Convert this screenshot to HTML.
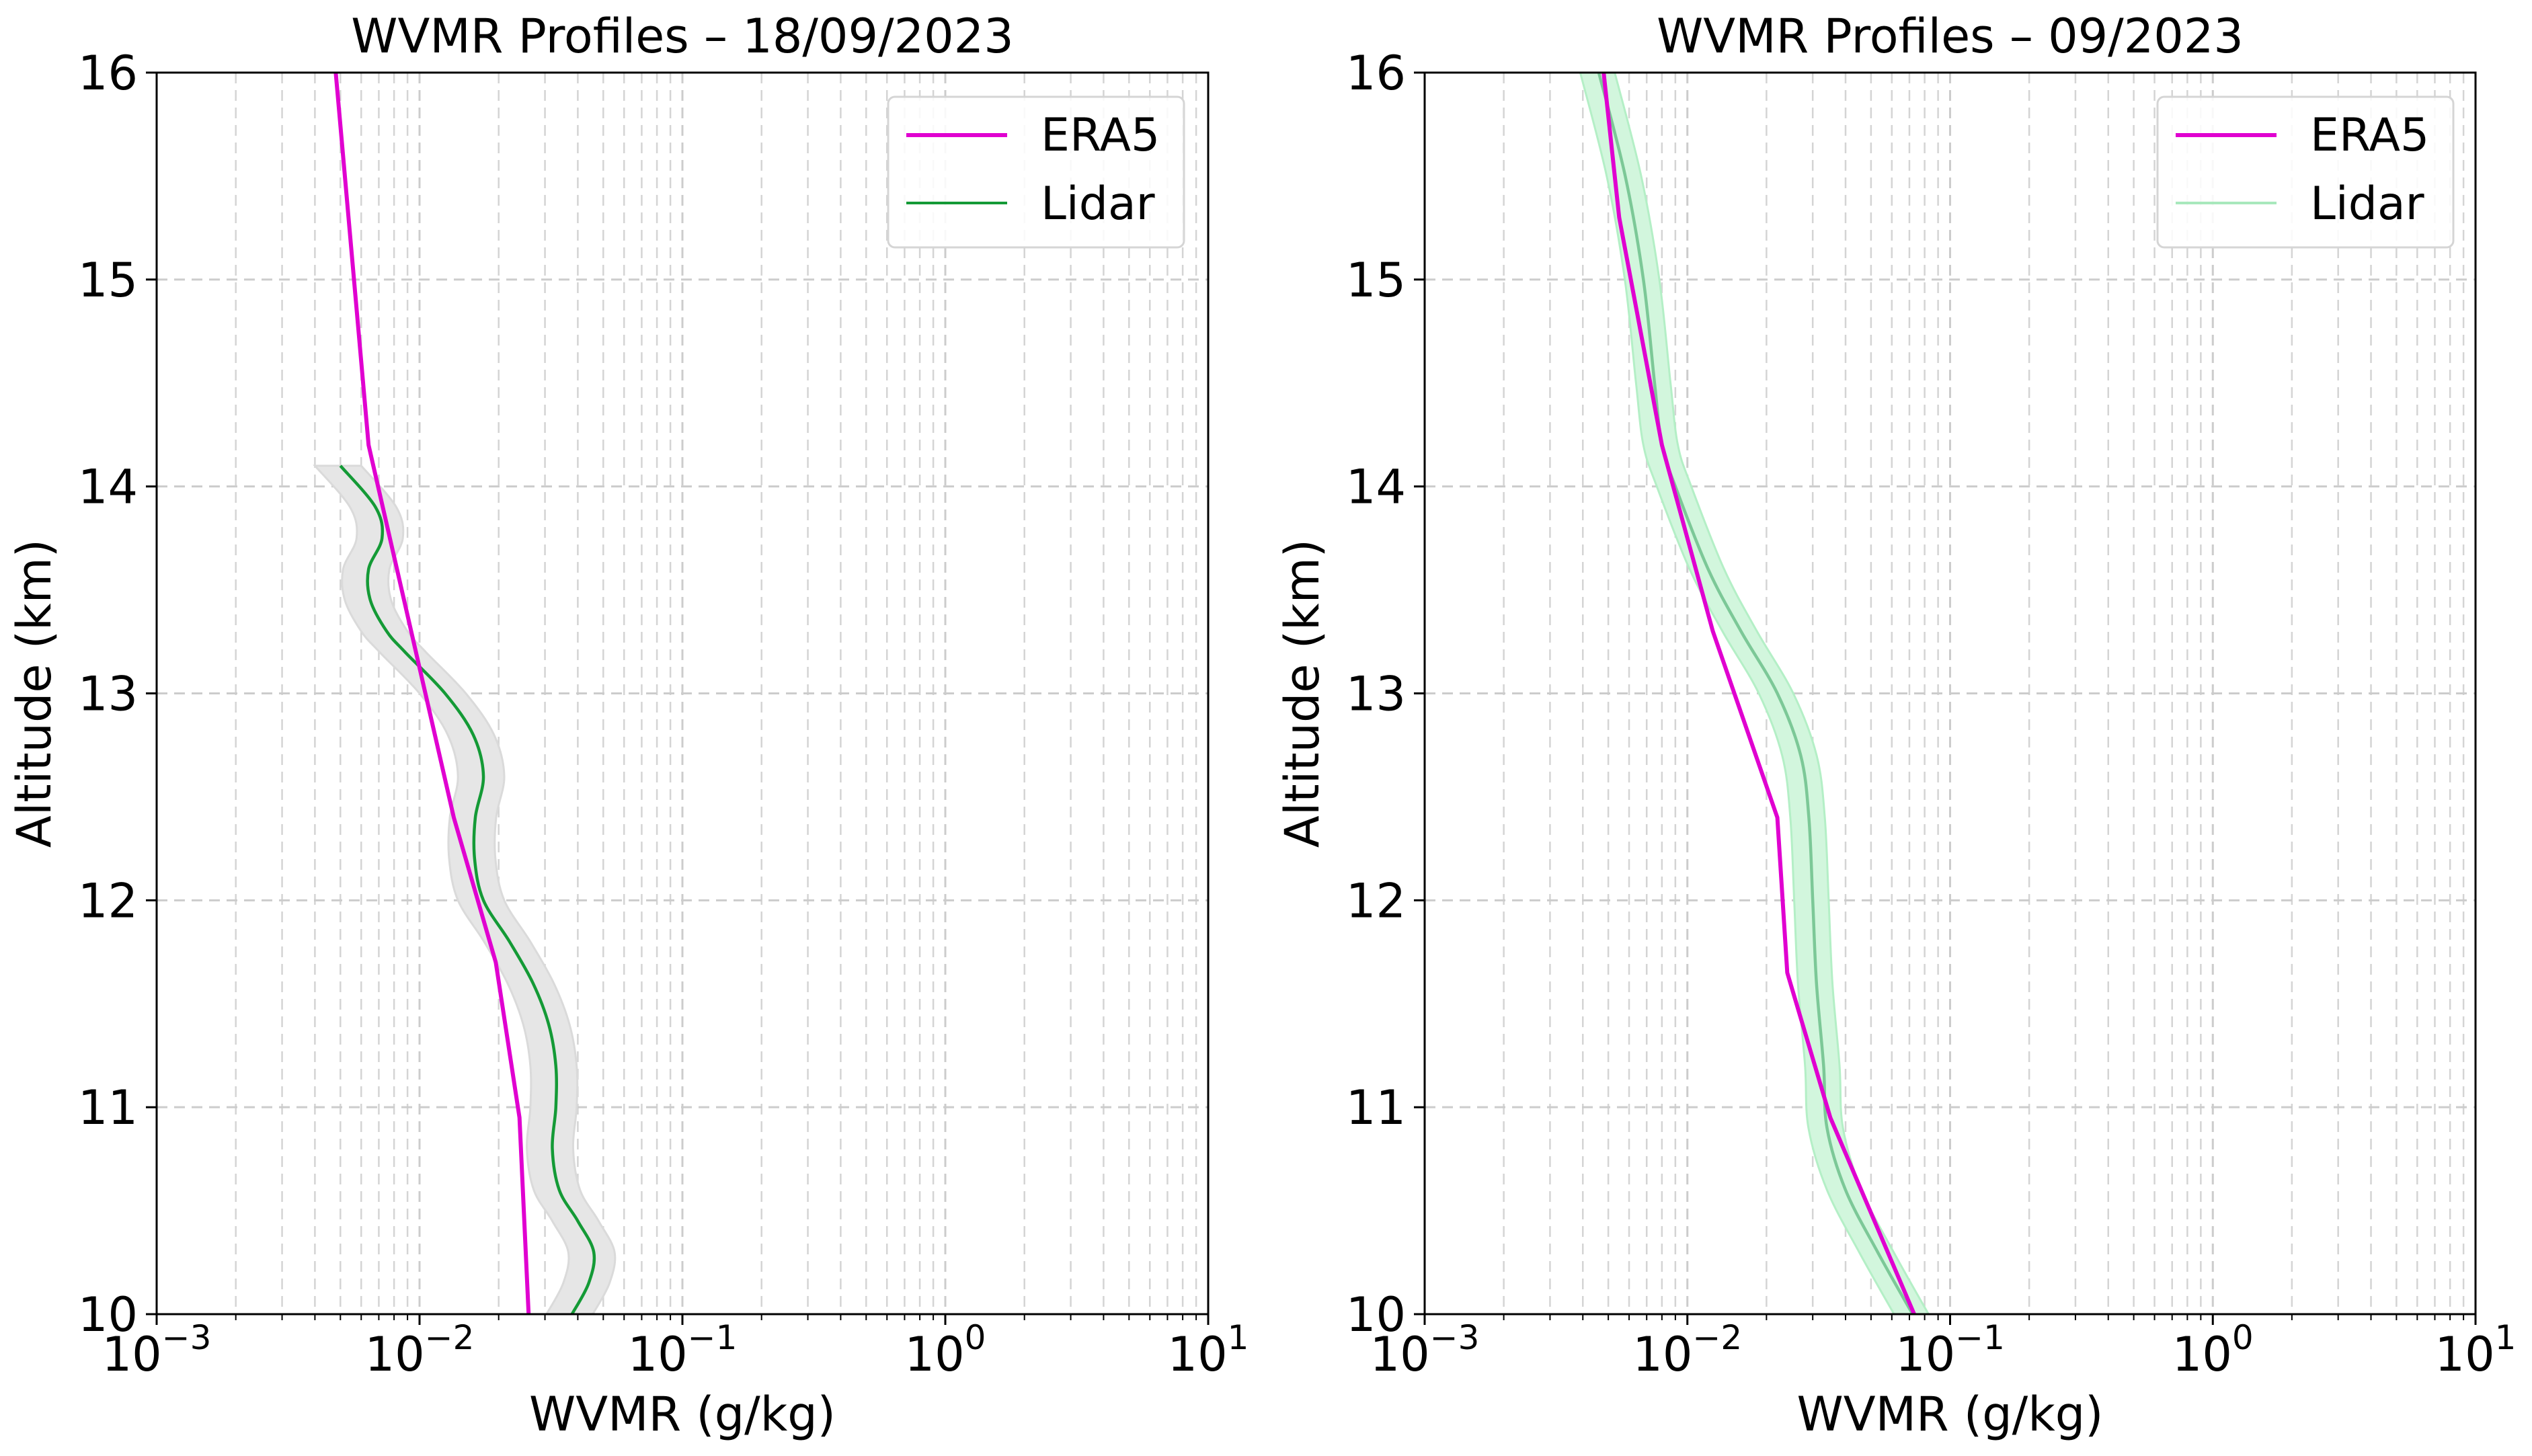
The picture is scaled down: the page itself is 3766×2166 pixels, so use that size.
<!DOCTYPE html>
<html><head><meta charset="utf-8">
<style>
html,body{margin:0;padding:0;background:#fff;}
svg{display:block;font-family:"DejaVu Sans","Liberation Sans",sans-serif;}
</style></head>
<body>
<svg id="fig" width="3766" height="2166" viewBox="0 0 3766 2166" xmlns="http://www.w3.org/2000/svg"></svg>
<script>
// ---- data ----
const titles = ["WVMR Profiles \u2013 18/09/2023", "WVMR Profiles \u2013 09/2023"];
const yTicks = [10, 11, 12, 13, 14, 15, 16];
const xExponents = [-3, -2, -1, 0, 1];
const era5AltLeft = [16, 14.2, 12.4, 11.7, 10.95, 10];
const era5ValLeft = [0.0048, 0.0064, 0.0135, 0.0195, 0.024, 0.026];
const lidarAltLeft = [14.1, 13.9, 13.75, 13.6, 13.45, 13.3, 13.2, 13.0, 12.8, 12.6, 12.4, 12.2, 12.0, 11.8, 11.6, 11.4, 11.2, 11.0, 10.8, 10.6, 10.45, 10.3, 10.15, 10.0];
const lidarValLeft = [0.005, 0.0068, 0.0072, 0.0064, 0.0065, 0.0075, 0.0088, 0.0125, 0.016, 0.0175, 0.0163, 0.0162, 0.0175, 0.022, 0.027, 0.031, 0.033, 0.033, 0.032, 0.034, 0.040, 0.046, 0.044, 0.038];
const era5AltRight = [16, 15.3, 14.2, 13.3, 12.4, 11.65, 10.95, 10];
const era5ValRight = [0.0048, 0.0055, 0.0080, 0.0125, 0.022, 0.024, 0.035, 0.073];
const lidarAltRight = [16, 15.5, 15, 14.5, 14.2, 14, 13.6, 13.3, 13.0, 12.7, 12.4, 12.0, 11.6, 11.2, 10.9, 10.6, 10.3, 10.0];
const lidarValRight = [0.0046, 0.0058, 0.0068, 0.0075, 0.008, 0.009, 0.012, 0.016, 0.022, 0.027, 0.029, 0.030, 0.031, 0.033, 0.034, 0.040, 0.053, 0.072];
const errFracLeft = 0.2;
const errFracRight = 0.15;

const NS = "http://www.w3.org/2000/svg";
const svg = document.getElementById("fig");
function mk(tag, attrs, parent) {
  const e = document.createElementNS(NS, tag);
  for (const k in attrs) e.setAttribute(k, attrs[k]);
  (parent || svg).appendChild(e);
  return e;
}
function smooth(pts) {
  let d = "M" + pts[0][0] + "," + pts[0][1];
  for (let i = 0; i < pts.length - 1; i++) {
    const p0 = pts[Math.max(0, i - 1)], p1 = pts[i], p2 = pts[i + 1], p3 = pts[Math.min(pts.length - 1, i + 2)];
    const c1x = p1[0] + (p2[0] - p0[0]) / 6, c1y = p1[1] + (p2[1] - p0[1]) / 6;
    const c2x = p2[0] - (p3[0] - p1[0]) / 6, c2y = p2[1] - (p3[1] - p1[1]) / 6;
    d += " C" + c1x + "," + c1y + " " + c2x + "," + c2y + " " + p2[0] + "," + p2[1];
  }
  return d;
}

const panels = [
  {x0: 233, x1: 1797, title: titles[0], eA: era5AltLeft, eV: era5ValLeft, lA: lidarAltLeft, lV: lidarValLeft, err: errFracLeft, lc: "#149a36", lsw: "#149a36", band: "#e6e6e6", bandStroke: "#dadada", legX: 1321, pre: "left"},
  {x0: 2119, x1: 3682, title: titles[1], eA: era5AltRight, eV: era5ValRight, lA: lidarAltRight, lV: lidarValRight, err: errFracRight, lc: "#7cc897", lsw: "#a8e8bc", band: "#d2f6dd", bandStroke: "#b4efc6", legX: 3209, pre: "right"}
];
const Y0 = 108, Y1 = 1955;

panels.forEach(p => {
  const g = mk("g", {});
  
  
  const xs = v => p.x0 + (Math.log10(v) + 3) / 4 * (p.x1 - p.x0);
  const ys = a => Y1 - (a - 10) / 6 * (Y1 - Y0);

  for (let e = -3; e < 1; e++) {
    for (let m = 2; m <= 9; m++) {
      const x = xs(m * Math.pow(10, e));
      const gl = mk("line", {x1: x, x2: x, y1: Y0, y2: Y1, stroke: "#d4d4d4", "stroke-width": 2.5, "stroke-dasharray": "16 10"}, g);
      
      
      const t = mk("line", {x1: x, x2: x, y1: Y1, y2: Y1 + 9, stroke: "#000", "stroke-width": 2}, g);
      
      
    }
  }
  xExponents.forEach(e => {
    const x = xs(Math.pow(10, e));
    const gl = mk("line", {x1: x, x2: x, y1: Y0, y2: Y1, stroke: "#cccccc", "stroke-width": 3, "stroke-dasharray": "16 10"}, g);
    
    
    const t = mk("line", {x1: x, x2: x, y1: Y1, y2: Y1 + 16, stroke: "#000", "stroke-width": 3}, g);
    
    
    const tx = mk("text", {x: x, y: Y1 + 84, "font-size": 70, "text-anchor": "middle"}, g);
    
    
    tx.innerHTML = '10<tspan dy="-32" font-size="50">' + (e < 0 ? '\u2212' + (-e) : e) + '</tspan>';
  });
  yTicks.forEach(a => {
    const y = ys(a);
    const gl = mk("line", {x1: p.x0, x2: p.x1, y1: y, y2: y, stroke: "#cccccc", "stroke-width": 3, "stroke-dasharray": "16 10"}, g);
    
    
    const t = mk("line", {x1: p.x0 - 16, x2: p.x0, y1: y, y2: y, stroke: "#000", "stroke-width": 3}, g);
    
    
    const tx = mk("text", {x: p.x0 - 28, y: y + 25, "font-size": 70, "text-anchor": "end"}, g);
    
    
    tx.textContent = a;
  });

  const upP = p.lA.map((a, i) => [xs(p.lV[i] * (1 + p.err)), ys(a)]);
  const dnP = p.lA.map((a, i) => [xs(p.lV[i] * (1 - p.err)), ys(a)]).reverse();
  const bd = smooth(upP) + " L" + smooth(dnP).slice(1) + " Z";
  const band = mk("path", {d: bd, fill: p.band, stroke: p.bandStroke, "stroke-width": 3}, g);
  
  

  const lp = p.lA.map((a, i) => [xs(p.lV[i]), ys(a)]);
  const ll = mk("path", {d: smooth(lp), fill: "none", stroke: p.lc, "stroke-width": 4.5, "stroke-linejoin": "round"}, g);
  
  

  const ep = p.eA.map((a, i) => xs(p.eV[i]) + "," + ys(a)).join(" ");
  const el = mk("polyline", {points: ep, fill: "none", stroke: "#e000d0", "stroke-width": 6, "stroke-linejoin": "round"}, g);
  
  

  const fr = mk("rect", {x: p.x0, y: Y0, width: p.x1 - p.x0, height: Y1 - Y0, fill: "none", stroke: "#000", "stroke-width": 3}, g);
  
  

  const ti = mk("text", {x: (p.x0 + p.x1) / 2, y: 78, "font-size": 70, "text-anchor": "middle"}, g);
  
  
  ti.textContent = p.title;
  const xl = mk("text", {x: (p.x0 + p.x1) / 2, y: 2128, "font-size": 70, "text-anchor": "middle"}, g);
  
  
  xl.textContent = "WVMR (g/kg)";
  const yl = mk("text", {x: 0, y: 0, "font-size": 70, "text-anchor": "middle", transform: "translate(" + (p.x0 - 158) + "," + ((Y0 + Y1) / 2) + ") rotate(-90)"}, g);
  
  
  yl.textContent = "Altitude (km)";

  const lg = mk("g", {}, g);
  
  
  const lb = mk("rect", {x: p.legX, y: 144, width: 440, height: 224, rx: 10, fill: "#fff", "fill-opacity": 0.85, stroke: "#d5d5d5", "stroke-width": 3}, lg);
  
  
  const l1 = mk("line", {x1: p.legX + 27, x2: p.legX + 177, y1: 201, y2: 201, stroke: "#e000d0", "stroke-width": 6}, lg);
  
  
  const t1 = mk("text", {x: p.legX + 227, y: 224, "font-size": 68}, lg);
  
  
  t1.textContent = "ERA5";
  const l2 = mk("line", {x1: p.legX + 27, x2: p.legX + 177, y1: 302, y2: 302, stroke: p.lsw, "stroke-width": 4}, lg);
  
  
  const t2 = mk("text", {x: p.legX + 227, y: 326, "font-size": 68}, lg);
  
  
  t2.textContent = "Lidar";
});
</script>
</body></html>
